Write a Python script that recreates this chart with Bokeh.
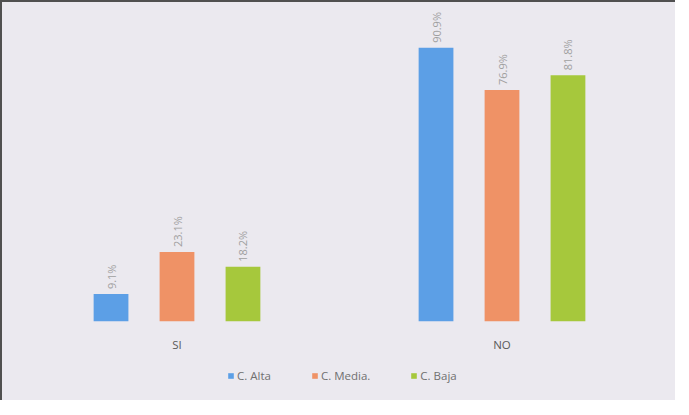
import math
from bokeh.plotting import figure
from bokeh.layouts import column
from bokeh.models import ColumnDataSource, Legend, LegendItem, Range1d
from bokeh.transform import dodge
from bokeh.core.properties import value
from bokeh.embed import file_html
from bokeh.resources import INLINE

categories = ["SI", "NO"]
series = ["C. Alta", "C. Media.", "C. Baja"]
alta = [9.1, 90.9]
media = [23.1, 76.9]
baja = [18.2, 81.8]
colors = ["#5c9fe6", "#ef9266", "#a6c83c"]

BG = "#ebe9ef"
values = [alta, media, baja]
offsets = [-0.203, 0.0, 0.203]
W = 673

p = figure(x_range=categories,
           y_range=Range1d(0, 105.3),
           width=W, height=358,
           output_backend="svg", toolbar_location=None,
           min_border_left=12, min_border_right=11, min_border_top=2,
           min_border_bottom=39)
p.x_range.range_padding = 0
p.background_fill_color = None
p.border_fill_color = BG
p.outline_line_color = None
p.grid.visible = False
p.yaxis.visible = False

for name, vals, col, off in zip(series, values, colors, offsets):
    src = ColumnDataSource(dict(cat=categories, v=vals,
                                lab=[f"{v:.1f}%" for v in vals]))
    p.vbar(x=dodge("cat", off, range=p.x_range), top="v", width=0.107,
           source=src, fill_color=col, line_color=None)
    p.text(x=dodge("cat", off, range=p.x_range), y="v", text="lab", source=src,
           angle=math.pi / 2, text_align="left", text_baseline="middle",
           y_offset=-5, text_font=value("Open Sans"),
           text_font_size="11px", text_color="#a0a0a0")

ax = p.xaxis[0]
ax.axis_line_color = None
ax.major_tick_line_color = None
ax.minor_tick_line_color = None
ax.major_label_standoff = 9
ax.major_label_text_font = "Open Sans"
ax.major_label_text_font_size = "11.5px"
ax.major_label_text_color = "#5a5a5a"

# legend strip
pl = figure(x_range=Range1d(0, 1), y_range=Range1d(0, 1), width=W, height=40,
            output_backend="svg", toolbar_location=None,
            min_border_left=0, min_border_right=0, min_border_top=0,
            min_border_bottom=0)
pl.axis.visible = False
pl.grid.visible = False
pl.outline_line_color = None
pl.background_fill_color = None
pl.border_fill_color = BG
items = []
for name, col in zip(series, colors):
    r = pl.vbar(x=[0.5], top=[0], width=0.0, fill_color=col, line_color=None)
    items.append(LegendItem(label=name, renderers=[r]))
legend = Legend(items=items, orientation="horizontal", location=(213, 17),
                background_fill_alpha=0, border_line_color=None,
                glyph_width=7, glyph_height=7, label_text_font="Open Sans",
                label_text_font_size="11.5px", label_text_color="#707070",
                spacing=40, label_standoff=3, padding=0, margin=0)
pl.add_layout(legend)

layout = column(p, pl, spacing=0,
                styles={"border-left": "2px solid #505050",
                        "border-top": "2px solid #505050",
                        "background-color": BG})

open("out.html", "w").write(file_html(layout, INLINE))
